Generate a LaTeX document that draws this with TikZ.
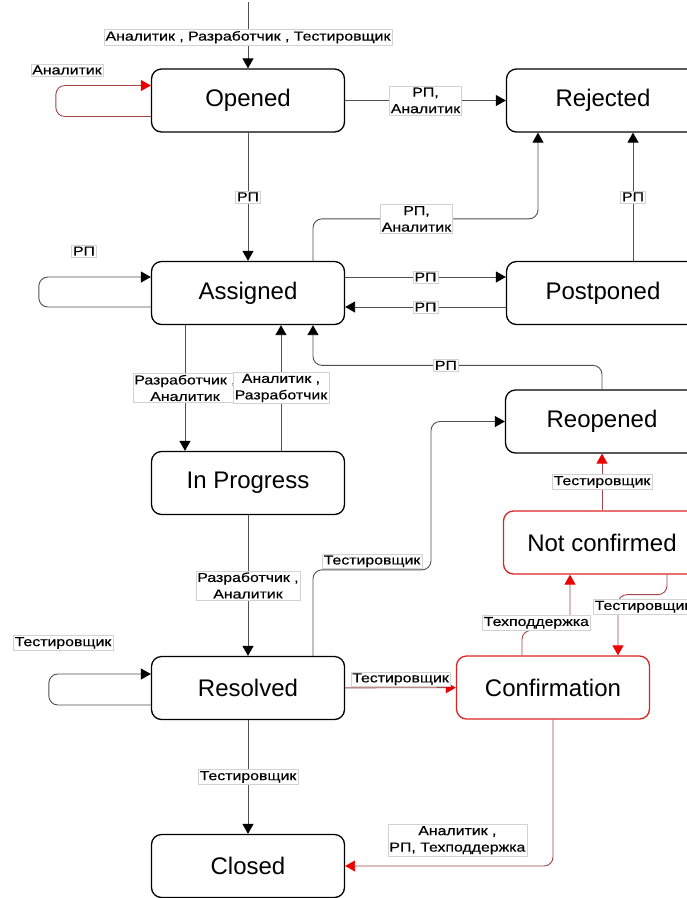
\documentclass[tikz,border=0pt]{standalone}
\usepackage{fontspec}
\setmainfont{Liberation Sans}
\newfontfamily\lblfont[FakeStretch=1.22, FakeBold=0.4]{Liberation Sans}
\usetikzlibrary{arrows.meta}
\definecolor{linegray}{RGB}{80,80,80}
\definecolor{linered}{RGB}{160,70,70}
\definecolor{tipred}{RGB}{235,0,0}
\definecolor{boxred}{RGB}{220,35,35}
\begin{document}
\begin{tikzpicture}[x=1pt, y=-1pt, line join=round,
    state/.style={draw, line width=1.3pt, rounded corners=10pt, minimum width=193pt, minimum height=63pt, inner sep=0pt, font=\fontsize{24}{28}\selectfont},
    redstate/.style={state, draw=boxred},
    lbl/.style={fill=white, draw=gray!35, line width=0.4pt, sharp corners, inner sep=1.5pt, align=center, font=\lblfont\fontsize{13}{16.5}\selectfont},
    conn/.style={draw=linegray, line width=0.9pt, rounded corners=9pt, -{Triangle[length=10pt, width=11pt, color=black]}},
    redconn/.style={conn, draw=linered, -{Triangle[length=10pt, width=11pt, color=tipred]}}]
    \useasboundingbox (0,0) rectangle (687,898);
    \clip (0,0) rectangle (687,898);
    \node[state] (opened) at (248,100.5) {Opened};
    \node[state] (rejected) at (603,100.5) {Rejected};
    \node[state] (assigned) at (248,293) {Assigned};
    \node[state] (postponed) at (603,293) {Postponed};
    \node[state] (inprogress) at (248,483) {In Progress};
    \node[state] (reopened) at (602,421.5) {Reopened};
    \node[redstate, minimum width=197pt] (notconfirmed) at (602,542.5) {Not confirmed};
    \node[state] (resolved) at (248,688) {Resolved};
    \node[redstate] (confirmation) at (553,687.5) {Confirmation};
    \node[state] (closed) at (248,866) {Closed};
    \coordinate (start) at (248,2);
    \draw[conn] (start) -- node[lbl, pos=0.53] (lstart) {Аналитик , Разработчик , Тестировщик} (opened);
    \draw[redconn] ([yshift=-16pt]opened.west) -- ++(-95,0) -- ++(0,-31) -- ([yshift=15pt]opened.west);
    \node[lbl] (lopenloop) at (67,70) {Аналитик};
    \draw[conn] (opened) -- node[lbl] (lopenrej) {РП,\\Аналитик} (rejected);
    \draw[conn] (opened) -- node[lbl] (lopenass) {РП} (assigned);
    \draw[conn] ([xshift=65pt]assigned.north) -- ++(0,-42) -| node[lbl, pos=0.23] (lassrej) {РП,\\Аналитик} ([xshift=-65pt]rejected.south);
    \draw[conn] ([xshift=30pt]postponed.north) -- node[lbl] (lpostrej) {РП} ([xshift=30pt]rejected.south);
    \draw[conn] ([yshift=-14pt]assigned.west) -- ++(-112,0) -- ++(0,-30) -- ([yshift=16pt]assigned.west);
    \node[lbl] (lassloop) at (84,251) {РП};
    \draw[conn] ([yshift=16pt]assigned.east) -- node[lbl] (lasspost) {РП} ([yshift=16pt]postponed.west);
    \draw[conn] ([yshift=-14pt]postponed.west) -- node[lbl] (lpostass) {РП} ([yshift=-14pt]assigned.east);
    \draw[conn] ([xshift=-63pt]assigned.south) -- node[lbl] (lassprog) {Разработчик ,\\Аналитик} ([xshift=-63pt]inprogress.north);
    \draw[conn] ([xshift=33pt]inprogress.north) -- node[lbl] (lprogass) {Аналитик ,\\Разработчик} ([xshift=33pt]assigned.south);
    \draw[conn] (reopened.north) -- ++(0,-24) -| node[lbl, pos=0.27] (lreoass) {РП} ([xshift=65pt]assigned.south);
    \draw[conn] (inprogress) -- node[lbl] (lprogres) {Разработчик ,\\Аналитик} (resolved);
    \draw[conn] ([xshift=65pt]resolved.north) -- ++(0,-86) -- node[lbl, above=1pt] (lresreo) {Тестировщик} ++(118,0) |- (reopened.west);
    \draw[conn] ([yshift=-17pt]resolved.west) -- ++(-102,0) -- ++(0,-31) -- ([yshift=14pt]resolved.west);
    \node[lbl] (lresloop) at (63,643) {Тестировщик};
    \draw[redconn] (resolved) -- node[lbl, above=1pt] (lresconf) {Тестировщик} (confirmation);
    \draw[conn] (resolved) -- node[lbl] (lresclo) {Тестировщик} (closed);
    \draw[redconn] (confirmation.south) |- node[lbl, pos=0.73, above=10pt] (lconfclo) {Аналитик ,\\РП, Техподдержка} (closed.east);
    \draw[redconn] ([xshift=-31pt]confirmation.north) -- ++(0,-25) -| node[lbl, pos=0.15, above=0pt] (lconfnot) {Техподдержка} ([xshift=-32pt]notconfirmed.south);
    \draw[redconn] ([xshift=65pt]notconfirmed.south) -- ++(0,20) -| node[lbl, pos=0.6, xshift=25pt] (lnotconf) {Тестировщик} ([xshift=65pt]confirmation.north);
    \draw[redconn] (notconfirmed) -- node[lbl] (lnotreo) {Тестировщик} (reopened);
\end{tikzpicture}
\end{document}
